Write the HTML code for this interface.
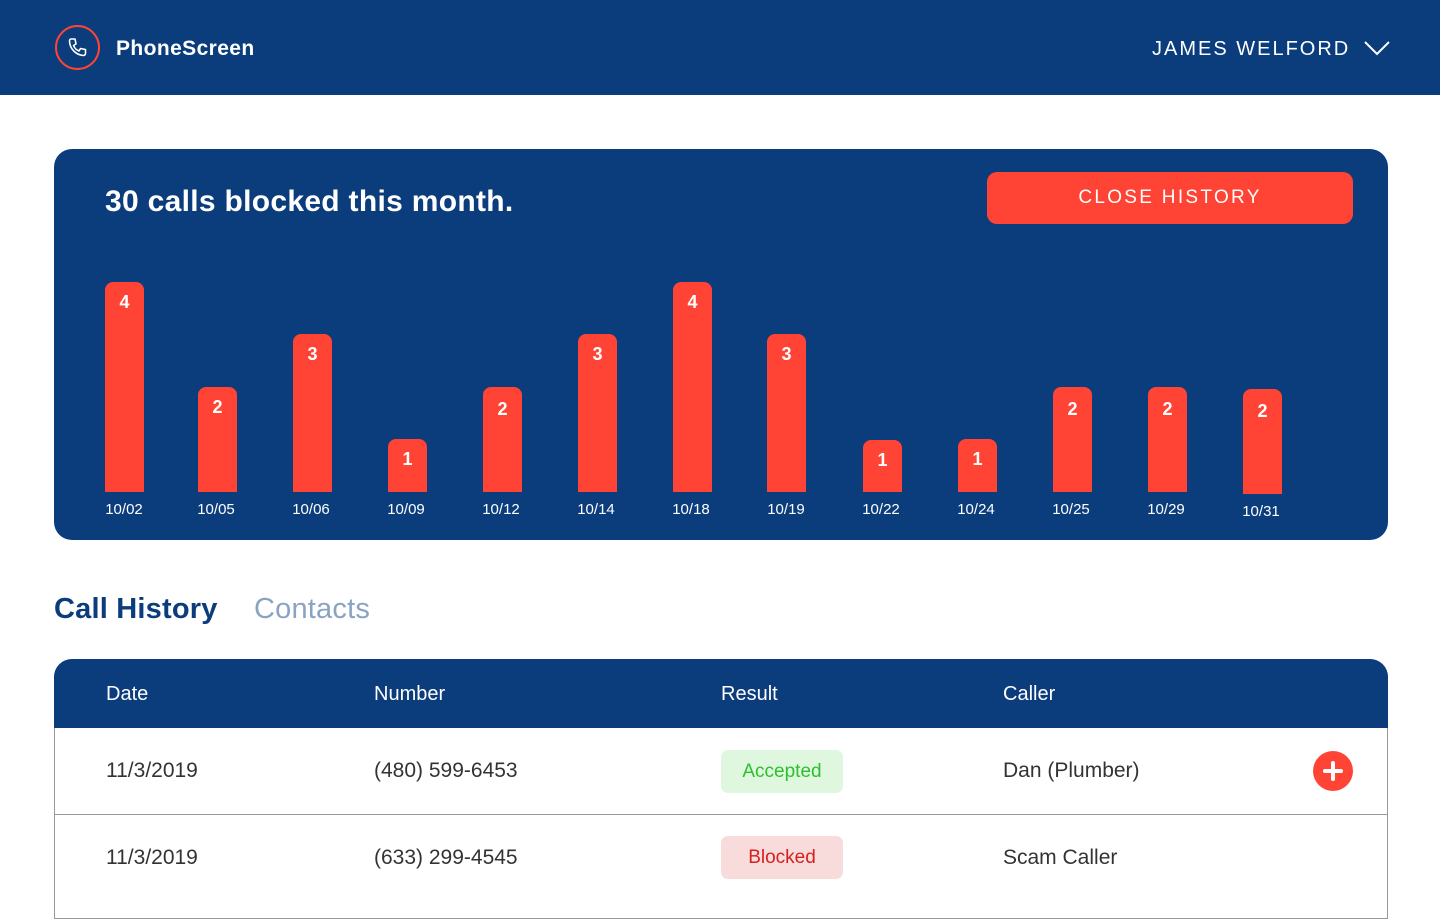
<!DOCTYPE html>
<html><head><meta charset="utf-8"><style>
*{margin:0;padding:0;box-sizing:border-box}
body{width:1440px;height:900px;overflow:hidden;background:#fff;font-family:"Liberation Sans",sans-serif;position:relative}
.a{position:absolute}
.nav{left:0;top:0;width:1440px;height:95px;background:#0b3c7c}
.panel{left:54px;top:149px;width:1334px;height:391px;background:#0b3c7c;border-radius:18px}
.bar{position:absolute;width:39px;background:#ff4436;border-radius:8px 8px 0 0;color:#fff;font-weight:bold;font-size:18px;text-align:center;padding-top:10px}
.lbl{position:absolute;width:60px;text-align:center;color:#fff;font-size:15px}
.th{color:#fff;font-size:20px;top:683px}
.td{color:#333;font-size:21px}
</style></head><body>
<div class="a nav"></div>
<div class="a" style="left:55px;top:25px;width:45px;height:45px;border:2px solid #ff4436;border-radius:50%"></div>
<svg class="a" style="left:66px;top:36px" width="24" height="24" viewBox="0 0 24 24"><path d="M5 3l4 0 1 5-2.5 1.5c1 2.5 3 4.5 5.5 5.5L14.5 12.5l5 1 0 4c0 1-1 2-2 2C10 19 4 13 3.5 5.5 3.5 4 4 3 5 3z" fill="none" stroke="#fff" stroke-width="1.6" stroke-linejoin="round"/></svg>
<div class="a" style="left:116px;top:37px;color:#fff;font-weight:bold;font-size:21px;letter-spacing:0.4px">PhoneScreen</div>
<div class="a" style="left:1152px;top:38px;color:#fff;font-size:20px;letter-spacing:2px">JAMES WELFORD</div>
<svg class="a" style="left:1363px;top:39px" width="28" height="18"><path d="M2 3l12 12 12-12" fill="none" stroke="#fff" stroke-width="2"/></svg>

<div class="a panel"></div>
<div class="a" style="left:105px;top:185px;color:#fff;font-weight:bold;font-size:30px;letter-spacing:0.3px">30 calls blocked this month.</div>
<div class="a" style="left:987px;top:172px;width:366px;height:52px;background:#ff4436;border-radius:10px;color:#fff;font-size:19px;letter-spacing:2.3px;text-align:center;line-height:52px">CLOSE HISTORY</div>

<div class="bar" style="left:105px;top:282px;height:210px">4</div>
<div class="bar" style="left:198px;top:387px;height:105px">2</div>
<div class="bar" style="left:293px;top:334px;height:158px">3</div>
<div class="bar" style="left:388px;top:439px;height:53px">1</div>
<div class="bar" style="left:483px;top:387px;height:105px;padding-top:12px">2</div>
<div class="bar" style="left:578px;top:334px;height:158px">3</div>
<div class="bar" style="left:673px;top:282px;height:210px">4</div>
<div class="bar" style="left:767px;top:334px;height:158px">3</div>
<div class="bar" style="left:863px;top:440px;height:52px">1</div>
<div class="bar" style="left:958px;top:439px;height:53px">1</div>
<div class="bar" style="left:1053px;top:387px;height:105px;padding-top:12px">2</div>
<div class="bar" style="left:1148px;top:387px;height:105px;padding-top:12px">2</div>
<div class="bar" style="left:1243px;top:389px;height:105px;padding-top:12px">2</div>

<div class="lbl" style="left:94px;top:501px">10/02</div>
<div class="lbl" style="left:186px;top:501px">10/05</div>
<div class="lbl" style="left:281px;top:501px">10/06</div>
<div class="lbl" style="left:376px;top:501px">10/09</div>
<div class="lbl" style="left:471px;top:501px">10/12</div>
<div class="lbl" style="left:566px;top:501px">10/14</div>
<div class="lbl" style="left:661px;top:501px">10/18</div>
<div class="lbl" style="left:756px;top:501px">10/19</div>
<div class="lbl" style="left:851px;top:501px">10/22</div>
<div class="lbl" style="left:946px;top:501px">10/24</div>
<div class="lbl" style="left:1041px;top:501px">10/25</div>
<div class="lbl" style="left:1136px;top:501px">10/29</div>
<div class="lbl" style="left:1231px;top:503px">10/31</div>

<div class="a" style="left:54px;top:593px;color:#0b3c7c;font-weight:bold;font-size:29px;letter-spacing:0.2px">Call History</div>
<div class="a" style="left:254px;top:593px;color:#8aa3c3;font-size:29px;letter-spacing:0.2px">Contacts</div>

<div class="a" style="left:54px;top:659px;width:1334px;height:260px;border:1px solid #999;border-top:none;border-radius:18px 18px 0 0"></div>
<div class="a" style="left:54px;top:659px;width:1334px;height:69px;background:#0b3c7c;border-radius:18px 18px 0 0"></div>
<div class="a th" style="left:106px">Date</div>
<div class="a th" style="left:374px">Number</div>
<div class="a th" style="left:721px">Result</div>
<div class="a th" style="left:1003px">Caller</div>
<div class="a" style="left:54px;top:814px;width:1334px;height:1px;background:#999"></div>

<div class="a td" style="left:106px;top:759px">11/3/2019</div>
<div class="a td" style="left:374px;top:759px">(480) 599-6453</div>
<div class="a" style="left:721px;top:750px;width:122px;height:43px;background:#dff7df;border-radius:7px;color:#2cc12c;font-size:19px;text-align:center;line-height:43px">Accepted</div>
<div class="a td" style="left:1003px;top:759px">Dan (Plumber)</div>
<div class="a" style="left:1313px;top:751px;width:40px;height:40px;border-radius:50%;background:#ff4436"></div>
<div class="a" style="left:1323px;top:769px;width:20px;height:4px;background:#fff;border-radius:2px"></div>
<div class="a" style="left:1331px;top:761px;width:4px;height:20px;background:#fff;border-radius:2px"></div>

<div class="a td" style="left:106px;top:846px">11/3/2019</div>
<div class="a td" style="left:374px;top:846px">(633) 299-4545</div>
<div class="a" style="left:721px;top:836px;width:122px;height:43px;background:#f8dcdc;border-radius:7px;color:#d42020;font-size:19px;text-align:center;line-height:43px">Blocked</div>
<div class="a td" style="left:1003px;top:846px">Scam Caller</div>
</body></html>
